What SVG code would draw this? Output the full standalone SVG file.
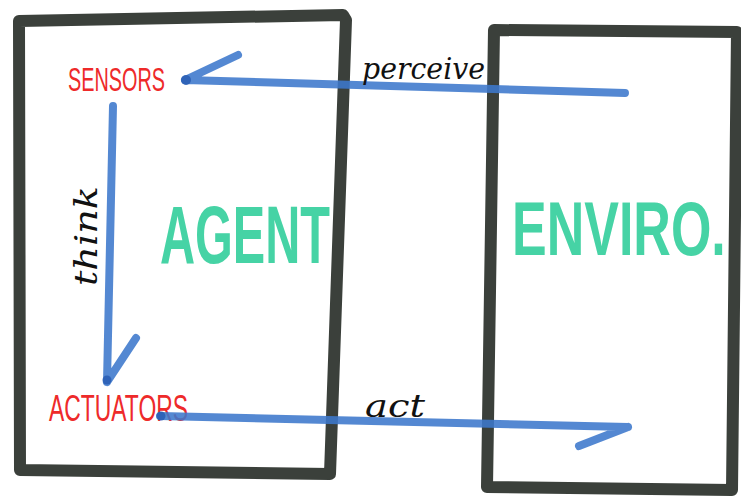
<svg xmlns="http://www.w3.org/2000/svg" width="741" height="504" viewBox="0 0 741 504">
<style>
.box{fill:none;stroke:#3b403b;stroke-width:12;stroke-linejoin:round;stroke-linecap:round}
.big{font-family:"Liberation Sans",Arial,sans-serif;font-weight:bold;fill:#33cf9c;opacity:0.9}
.red{font-family:"Liberation Sans",Arial,sans-serif;fill:#ee2a2a;font-weight:normal}
.hand{font-family:"DejaVu Serif","Liberation Serif",serif;font-style:italic;fill:#111}
.arrow{fill:none;stroke:#3c78cc;stroke-width:8;stroke-linecap:round;stroke-linejoin:round;opacity:0.88}
.tip{fill:#2b5fb5;opacity:0.9}
</style>
<rect width="741" height="504" fill="#ffffff"/>
<g id="agent">
<path class="box" d="M19,21 L343,15 L346,20 L330,474 L20,470 Z"/>
<text class="big" x="160" y="263" font-size="82" textLength="170" lengthAdjust="spacingAndGlyphs">AGENT</text>
</g>
<g id="environment">
<path class="box" d="M494,30 L737,32 L732,490 L487,487 Z"/>
<text class="big" x="0" y="0" font-size="52" transform="translate(512,255) scale(1,1.45)">ENVIRO.</text>
</g>
<g id="sensors">
<text class="red" x="68" y="91" font-size="34" textLength="97" lengthAdjust="spacingAndGlyphs">SENSORS</text>
</g>
<g id="actuators">
<text class="red" x="49" y="421" font-size="36" textLength="139" lengthAdjust="spacingAndGlyphs">ACTUATORS</text>
</g>
<g id="connectors">
<path class="arrow" d="M625,93 L185,80 M185,80 L238,55"/>
<circle class="tip" cx="186" cy="80" r="5"/>
<path class="arrow" d="M113,106 L107,382 M107,382 L136,338"/>
<circle class="tip" cx="107" cy="380" r="4.5"/>
<path class="arrow" d="M160,416 L628,427 M628,427 L579,446"/>
<circle class="tip" cx="161" cy="416" r="4.5"/>
<text class="hand" x="362" y="79" font-size="30" textLength="123" lengthAdjust="spacingAndGlyphs">perceive</text>
<text class="hand" x="365" y="417" font-size="32" textLength="60" lengthAdjust="spacingAndGlyphs">act</text>
<text class="hand" x="97" y="286" font-size="32" textLength="100" lengthAdjust="spacingAndGlyphs" transform="rotate(-90 97 286)">think</text>
</g>
</svg>
